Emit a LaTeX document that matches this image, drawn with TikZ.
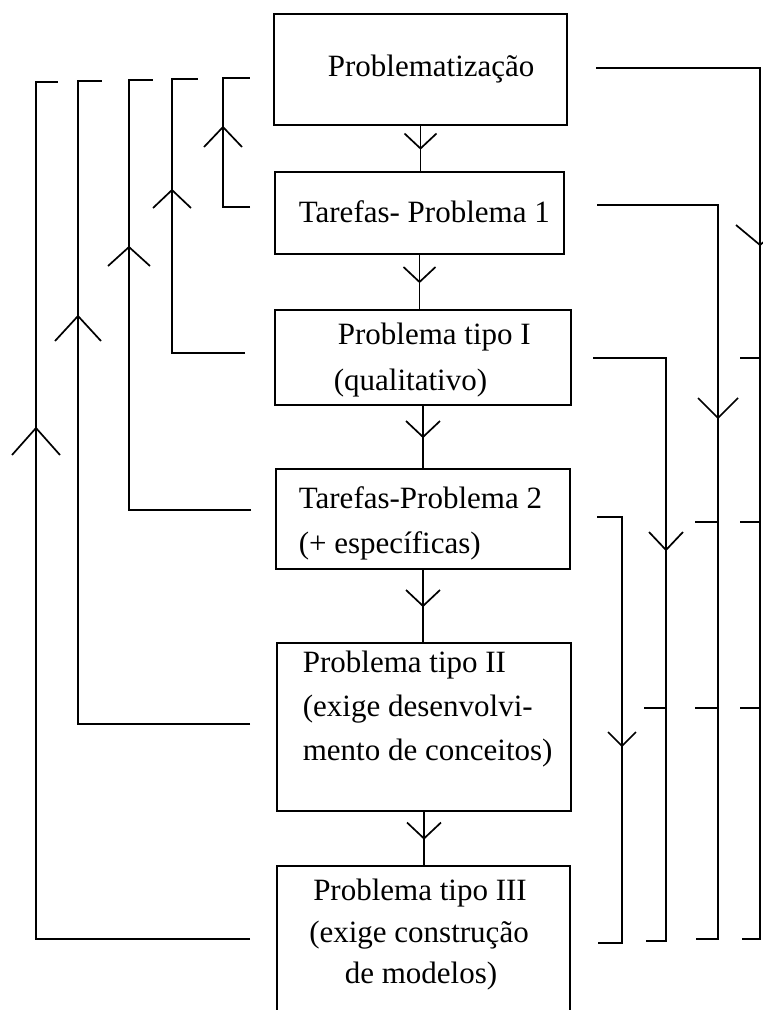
\documentclass[tikz,border=0pt]{standalone}
\usepackage{fontspec}
\setmainfont{Liberation Serif}
\usetikzlibrary{calc}
\begin{document}
\begin{tikzpicture}[x=1pt,y=-1pt,
  line width=1.7pt,
  box/.style={draw, rectangle, inner sep=0pt},
  lbl/.style={inner sep=0pt, font=\fontsize{31}{36}\selectfont},
  link/.style={draw},
  pics/chevdown/.style args={#1/#2}{code={\draw (-#1,-#2) -- (0,0) -- (#1,-#2);}},
  pics/chevup/.style args={#1/#2}{code={\draw (-#1,#2) -- (0,0) -- (#1,#2);}}]
\clip (0,0) rectangle (763,1010);
\fill[white] (0,0) rectangle (763,1010);

% stages of the sequence
\node[box, minimum width=293pt, minimum height=111pt] (b1) at (420.5,69.5) {};
\node[box, minimum width=289pt, minimum height=82pt]  (b2) at (419.5,213) {};
\node[box, minimum width=296pt, minimum height=95pt]  (b3) at (423,357.5) {};
\node[box, minimum width=294pt, minimum height=100pt] (b4) at (423,519) {};
\node[box, minimum width=294pt, minimum height=168pt] (b5) at (424,727) {};
\node[box, minimum width=293pt, minimum height=174pt] (b6) at (423.5,953) {};

% texts
\node[lbl, anchor=base west] (t1)  at (327,76)  {Problematização};
\node[lbl, anchor=base west] (t2)  at (298,222) {Tarefas- Problema 1};
\node[lbl, anchor=base west] (t3a) at (337,344) {Problema tipo I};
\node[lbl, anchor=base west] (t3b) at (333,390) {(qualitativo)};
\node[lbl, anchor=base west] (t4a) at (298,508) {Tarefas-Problema 2};
\node[lbl, anchor=base west] (t4b) at (298,553) {(+ específicas)};
\node[lbl, anchor=base west] (t5a) at (302,672) {Problema tipo II};
\node[lbl, anchor=base west] (t5b) at (302,716) {(exige desenvolvi-};
\node[lbl, anchor=base west] (t5c) at (302,760) {mento de conceitos)};
\node[lbl, anchor=base] (t6a) at (420,900) {Problema tipo III};
\node[lbl, anchor=base] (t6b) at (419,942) {(exige construção};
\node[lbl, anchor=base] (t6c) at (421,983) {de modelos)};

% main chain down the middle
\draw[link] (b1.south) -- (b1.south |- b2.north);
\pic at ($(b1.south)!0.5!(b1.south |- b2.north)$) {chevdown={16/15}};
\draw[link] (b2.south) -- (b2.south |- b3.north);
\pic at ($(b2.south)!0.5!(b2.south |- b3.north)$) {chevdown={16/15}};
\draw[link] (b3.south) -- (b3.south |- b4.north);
\pic at ($(b3.south)!0.5!(b3.south |- b4.north)$) {chevdown={17/16}};
\draw[link] (b4.south) -- (b4.south |- b5.north);
\pic at ($(b4.south)!0.5!(b4.south |- b5.north)$) {chevdown={17/16}};
\draw[link] (b5.south) -- (b5.south |- b6.north);
\pic at ($(b5.south)!0.5!(b5.south |- b6.north)$) {chevdown={17/16}};

% feedback loops on the left
\coordinate (ls2) at (250,207); \coordinate (lk2) at (223,78); \coordinate (le2) at (250,78);
\coordinate (ls3) at (245,353); \coordinate (lk3) at (172,79); \coordinate (le3) at (198,79);
\coordinate (ls4) at (251,510); \coordinate (lk4) at (129,80); \coordinate (le4) at (153,80);
\coordinate (ls5) at (250,724); \coordinate (lk5) at (78,81);  \coordinate (le5) at (102,81);
\coordinate (ls6) at (250,939); \coordinate (lk6) at (36,82);  \coordinate (le6) at (58,82);
\draw[link] (ls2) -| (lk2) -- (le2);
\draw[link] (ls3) -| (lk3) -- (le3);
\draw[link] (ls4) -| (lk4) -- (le4);
\draw[link] (ls5) -| (lk5) -- (le5);
\draw[link] (ls6) -| (lk6) -- (le6);
\pic at (223,127) {chevup={19/20}};
\pic at (172,190) {chevup={19/18}};
\pic at (129,247) {chevup={21/19}};
\pic at (78,316)  {chevup={23/25}};
\pic at (36,428)  {chevup={24/27}};

% feed-forward lines on the right
\coordinate (rs1) at (596,68);  \coordinate (rk1) at (760,939); \coordinate (re1) at (742,939);
\coordinate (rs2) at (597,205); \coordinate (rk2) at (718,939); \coordinate (re2) at (696,939);
\coordinate (rs3) at (593,358); \coordinate (rk3) at (666,941); \coordinate (re3) at (646,941);
\coordinate (rs4) at (597,517); \coordinate (rk4) at (622,943); \coordinate (re4) at (598,943);
\draw[link] (rs1) -| (rk1) -- (re1);
\draw[link] (rs2) -| (rk2) -- (re2);
\draw[link] (rs3) -| (rk3) -- (re3);
\draw[link] (rs4) -| (rk4) -- (re4);
\pic at (760,245) {chevdown={24/20}};
\pic at (718,418) {chevdown={20/20}};
\pic at (666,550) {chevdown={17/18}};
\pic at (622,746) {chevdown={14/14}};

% branch stubs toward intermediate stages
\foreach \y in {358,522,708} \draw[link] (740,\y) -- (760,\y);
\foreach \y in {522,708} \draw[link] (695,\y) -- (718,\y);
\draw[link] (644,708) -- (666,708);
\end{tikzpicture}
\end{document}
